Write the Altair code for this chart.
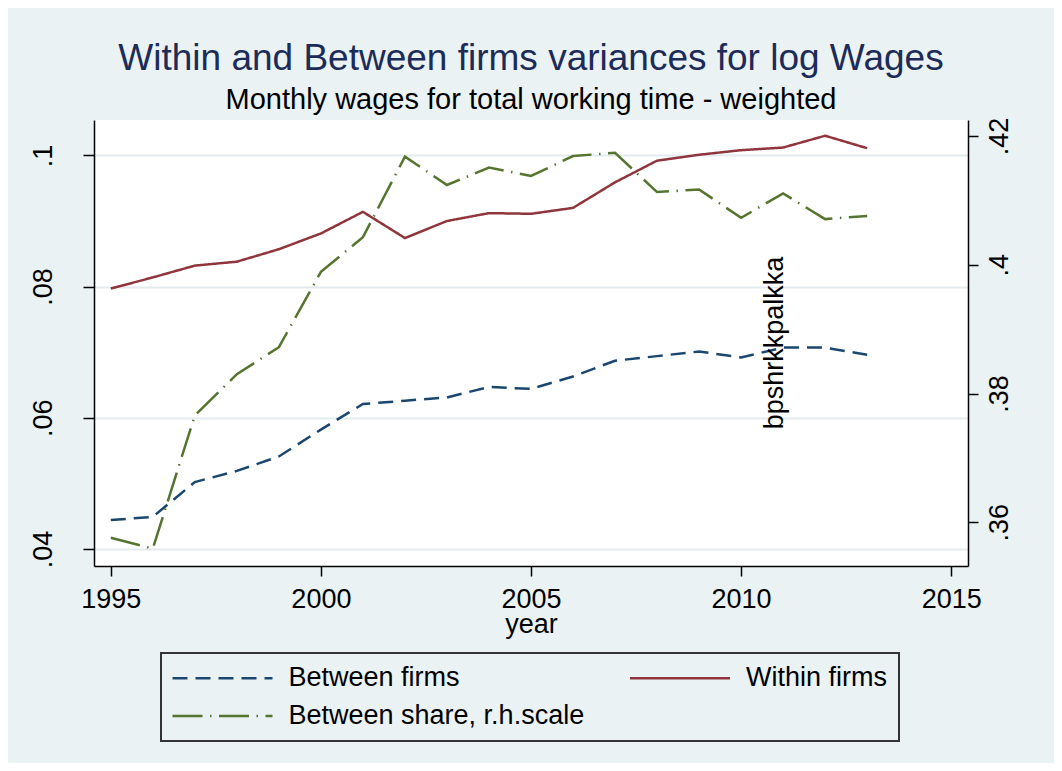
import altair as alt
import pandas as pd

years = list(range(1995, 2014))
between_firms = [0.0444, 0.0449, 0.0502, 0.0519, 0.0541, 0.0582, 0.0621, 0.0626, 0.0631, 0.0647,
                 0.0644, 0.0663, 0.0687, 0.0694, 0.0701, 0.0692, 0.0707, 0.0707, 0.0696]
within_firms = [0.0797, 0.0814, 0.0832, 0.0838, 0.0857, 0.0881, 0.0914, 0.0874, 0.0900, 0.0912,
                0.0911, 0.0920, 0.0959, 0.0992, 0.1001, 0.1008, 0.1012, 0.1030, 0.1011]
between_share = [0.3576, 0.3559, 0.3766, 0.3830, 0.3872, 0.3989, 0.4043, 0.4168, 0.4124, 0.4151,
                 0.4138, 0.4169, 0.4174, 0.4113, 0.4117, 0.4073, 0.4111, 0.4071, 0.4076]

# legend fills column by column: col 1 = first two, col 2 = last
series_names = ["Between firms", "Between share, r.h.scale", "Within firms"]
series_colors = ["#1a476f", "#55752f", "#90353b"]
series_dashes = [[15, 8], [30, 7.5, 1.5, 7.5], [1, 0]]

x_ticks = [1995, 2000, 2005, 2010, 2015]
left_ticks = [0.04, 0.06, 0.08, 0.1]
right_ticks = [0.36, 0.38, 0.40, 0.42]

note_text = ["bpshrkkpalkka"]
note_x = [2010.8]
note_y = [0.0714]

left_df = pd.DataFrame({
    "year": years * 2,
    "value": between_firms + within_firms,
    "series": ["Between firms"] * len(years) + ["Within firms"] * len(years),
})
right_df = pd.DataFrame({
    "year": years,
    "value": between_share,
    "series": ["Between share, r.h.scale"] * len(years),
})
note_df = pd.DataFrame({"year": note_x, "value": note_y, "label": note_text})

FONT = "Liberation Sans"

x_enc = alt.X(
    "year:Q",
    scale=alt.Scale(domain=[1994.6, 2015.4], nice=False, zero=False),
    axis=alt.Axis(
        values=x_ticks, format="d", title="year", grid=False,
        labelFontSize=27, titleFontSize=27, labelFont=FONT, titleFont=FONT,
        labelColor="black", titleColor="black", titleFontWeight="normal",
        tickSize=10, tickColor="black", tickWidth=1.5,
        domainColor="black", domainWidth=1.5, labelPadding=10,
        titleY=66, titleBaseline="alphabetic",
    ),
)

legend = alt.Legend(
    title=None, orient="none", legendX=67, legendY=533, columns=2,
    symbolType="M-10,0H10", symbolSize=100, symbolStrokeWidth=2.5,
    symbolOffset=36.5, labelOffset=52.5,
    labelFontSize=27, labelFont=FONT, labelColor="black", labelLimit=0,
    columnPadding=40.5, rowPadding=10, padding=11.5,
    strokeColor="#333333",
)

color_enc = alt.Color(
    "series:N",
    scale=alt.Scale(domain=series_names, range=series_colors),
    legend=legend,
)
dash_enc = alt.StrokeDash(
    "series:N",
    scale=alt.Scale(domain=series_names, range=series_dashes),
    legend=legend,
)

left_axis = alt.Axis(
    values=left_ticks, labelExpr="datum.value == 0.1 ? '.1' : replace(format(datum.value, '.2f'), '0.', '.')",
    title=None, orient="left", grid=True, gridColor="#e3ebee", gridWidth=2,
    labelAngle=270, labelAlign="center", labelBaseline="alphabetic",
    labelFontSize=27, labelFont=FONT, labelColor="black", labelPadding=32,
    tickSize=11, tickColor="black", tickWidth=1.5,
    domainColor="black", domainWidth=1.5,
)
right_axis = alt.Axis(
    values=right_ticks, labelExpr="datum.value == 0.4 ? '.4' : replace(format(datum.value, '.2f'), '0.', '.')",
    title=None, orient="right", grid=False,
    labelAngle=270, labelAlign="center", labelBaseline="top",
    labelFontSize=27, labelFont=FONT, labelColor="black", labelPadding=8,
    tickSize=10, tickColor="black", tickWidth=1.5,
    domainColor="black", domainWidth=1.5,
)

left_lines = alt.Chart(left_df).mark_line(strokeWidth=2.5).encode(
    x=x_enc,
    y=alt.Y("value:Q", scale=alt.Scale(domain=[0.0374, 0.1054], nice=False, zero=False), axis=left_axis),
    color=color_enc,
    strokeDash=dash_enc,
)

note = alt.Chart(note_df).mark_text(
    angle=270, fontSize=27, font=FONT, color="black", align="center", baseline="middle"
).encode(
    x=alt.X("year:Q"),
    y=alt.Y("value:Q"),
    text="label:N",
)

left_layer = alt.layer(left_lines, note)

right_lines = alt.Chart(right_df).mark_line(strokeWidth=2.5).encode(
    x=alt.X("year:Q"),
    y=alt.Y("value:Q", scale=alt.Scale(domain=[0.3532, 0.4225], nice=False, zero=False), axis=right_axis),
    color=color_enc,
    strokeDash=dash_enc,
)

chart = alt.layer(left_layer, right_lines).resolve_scale(y="independent").properties(
    width=874,
    height=446,
    padding={"left": 86, "top": 112, "right": 86, "bottom": 197},
    autosize=alt.AutoSizeParams(type="none"),
    background="#eaf2f3",
    title=alt.TitleParams(
        text="Within and Between firms variances for log Wages",
        subtitle="Monthly wages for total working time - weighted",
        fontSize=37, subtitleFontSize=29, font=FONT, subtitleFont=FONT,
        fontWeight="normal", color="#1c2b58", subtitleColor="black",
        anchor="middle", offset=1, subtitlePadding=8,
    ),
).configure_view(
    fill="white", strokeWidth=0
).configure_legend(
    strokeWidth=2
)

chart.save("out.html", embed_options={"renderer": "svg", "actions": False})
